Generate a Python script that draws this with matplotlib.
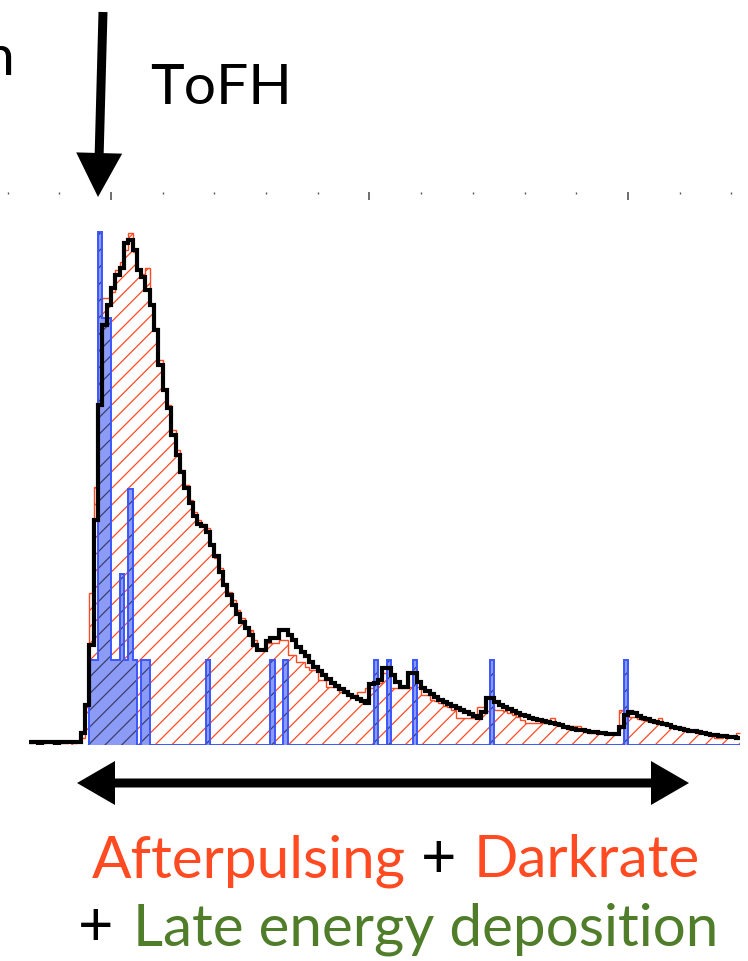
import numpy as np
import matplotlib
matplotlib.use("Agg")
import matplotlib.pyplot as plt
from matplotlib.patches import FancyArrow
from matplotlib.ticker import MultipleLocator

# histogram binning: one bin per unit, first bin starts at -19
FIRST_EDGE = -19

# summed expectation (black line), counts per bin
BLACK = [0.03, 0.03, 0.02, 0.03, 0.03, 0.03, 0.02, 0.03, 0.03, 0.03, 0.03, 0.03,
         0.14, 0.47, 1.17, 2.63, 3.98, 4.91, 5.15,
         5.35, 5.50, 5.58, 5.87, 5.91, 5.79, 5.56, 5.47, 5.32, 5.15,
         4.85, 4.44, 4.15, 3.94, 3.63, 3.39, 3.19, 3.01, 2.83, 2.68,
         2.58, 2.56, 2.49, 2.34, 2.21, 2.02, 1.87, 1.75, 1.64, 1.53,
         1.44, 1.37, 1.29, 1.17, 1.11, 1.11, 1.22, 1.25, 1.25, 1.35,
         1.35, 1.29, 1.23, 1.15, 1.09, 1.04, 0.97, 0.91, 0.87, 0.82,
         0.77, 0.73, 0.69, 0.65, 0.62, 0.58, 0.56, 0.54, 0.51, 0.49,
         0.71, 0.73, 0.76, 0.90, 0.90, 0.82, 0.74, 0.68, 0.68, 0.84,
         0.84, 0.74, 0.67, 0.63, 0.60, 0.56, 0.53, 0.50, 0.48, 0.46,
         0.43, 0.41, 0.39, 0.36, 0.34, 0.32, 0.39, 0.55, 0.55, 0.50,
         0.47, 0.44, 0.42, 0.40, 0.37, 0.35, 0.34, 0.32, 0.30, 0.29,
         0.28, 0.27, 0.26, 0.25, 0.23, 0.21, 0.20, 0.19, 0.18, 0.18,
         0.16, 0.15, 0.15, 0.14, 0.14, 0.13, 0.13, 0.13, 0.21, 0.35,
         0.39, 0.37, 0.34, 0.32, 0.30, 0.28, 0.27, 0.26, 0.25, 0.23,
         0.21, 0.20, 0.19, 0.18, 0.16, 0.16, 0.15, 0.14, 0.13, 0.12,
         0.12, 0.11, 0.11, 0.09, 0.09, 0.08]

# afterpulsing + darkrate (red hatched)
RED = [0.02, 0.05, 0.02, 0.02, 0.05, 0.02, 0.05, 0.02, 0.02, 0.05, 0.02, 0.03,
       0.08, 0.45, 1.78, 3.02, 4.30, 5.23, 5.23,
       5.30, 5.56, 5.65, 5.79, 5.99, 5.77, 5.56, 5.51, 5.58, 5.15,
       4.88, 4.50, 4.15, 3.98, 3.68, 3.45, 3.22, 3.04, 2.87, 2.73,
       2.63, 2.58, 2.54, 2.34, 2.19, 2.07, 1.89, 1.79, 1.70, 1.58,
       1.49, 1.37, 1.35, 1.23, 1.11, 1.11, 1.19, 1.19, 1.19, 1.23,
       1.23, 1.05, 1.05, 0.97, 0.97, 0.91, 0.88, 0.88, 0.76, 0.76,
       0.68, 0.68, 0.68, 0.62, 0.62, 0.58, 0.58, 0.62, 0.62, 0.67,
       0.67, 0.73, 0.73, 0.84, 0.67, 0.67, 0.67, 0.67, 0.67, 0.68,
       0.68, 0.68, 0.58, 0.58, 0.53, 0.51, 0.49, 0.46, 0.44, 0.41,
       0.32, 0.32, 0.32, 0.32, 0.32, 0.44, 0.44, 0.56, 0.47, 0.41,
       0.41, 0.40, 0.37, 0.35, 0.33, 0.29, 0.26, 0.26, 0.26, 0.26,
       0.26, 0.26, 0.32, 0.23, 0.23, 0.22, 0.22, 0.22, 0.22, 0.18,
       0.15, 0.14, 0.14, 0.14, 0.13, 0.14, 0.13, 0.13, 0.41, 0.35,
       0.33, 0.33, 0.30, 0.29, 0.28, 0.27, 0.26, 0.32, 0.24, 0.23,
       0.21, 0.20, 0.21, 0.17, 0.16, 0.15, 0.15, 0.14, 0.13, 0.12,
       0.08, 0.08, 0.11, 0.10, 0.10, 0.14]

# late energy deposition (blue), integer counts in a few bins
BLUE_BINS = [-5, -4, -3, -2, -1, 0, 1, 2, 3, 4, 5, 7, 8, 22, 37, 40, 61, 64, 70, 88, 119]
BLUE_COUNTS = [1, 1, 6, 5, 5, 1, 1, 2, 1, 3, 1, 1, 1, 1, 1, 1, 1, 1, 1, 1, 1]

ORANGE = '#ff4a22'
GREEN = '#4f7d2a'
BLUE_EDGE = '#3a56ff'
BLUE_FILL = '#8c9cf6'

plt.rcParams['hatch.linewidth'] = 0.9
plt.rcParams['font.family'] = ['Lato', 'DejaVu Sans']

nb = len(BLACK)
edges = np.arange(FIRST_EDGE, FIRST_EDGE + nb + 1)
blue = np.zeros(nb)
for b, c in zip(BLUE_BINS, BLUE_COUNTS):
    blue[b - FIRST_EDGE] = c
i0 = BLUE_BINS[0] - FIRST_EDGE

fig = plt.figure(figsize=(7.48, 9.61), dpi=100)
ax = fig.add_axes([0, 216 / 961, 1, 553 / 961])

# red: hatch fill then outline
ax.stairs(RED, edges, fill=True, facecolor='none', edgecolor=ORANGE,
          hatch='//', linewidth=0, baseline=0)
ax.stairs(RED, edges, color=ORANGE, linewidth=1.0, baseline=None)

# blue: fill, dark hatch, outline
ax.stairs(blue[i0:], edges[i0:], fill=True, facecolor=BLUE_FILL, edgecolor='none')
ax.stairs(blue[i0:], edges[i0:], fill=True, facecolor='none', edgecolor='#3c3c70',
          hatch='//', linewidth=0)
ax.stairs(blue[i0:], edges[i0:], color=BLUE_EDGE, linewidth=1.4)

# black total
ax.stairs(BLACK, edges, color='black', linewidth=3.0, baseline=None)

ax.set_xlim(-111 / 4.308, 637 / 4.308)
ax.set_ylim(0, 553 / 85.5)
ax.xaxis.set_major_locator(MultipleLocator(60))
ax.xaxis.set_minor_locator(MultipleLocator(12))
ax.tick_params(axis='x', which='both', top=True, bottom=False, direction='in',
               labeltop=False, labelbottom=False, color='#555555')
ax.tick_params(axis='x', which='major', length=6, width=1.2)
ax.tick_params(axis='x', which='minor', length=1.2, width=1)
ax.set_yticks([])
for s in ax.spines.values():
    s.set_visible(False)
ax.patch.set_alpha(0)

# overlay in pixel coordinates for the annotations
ov = fig.add_axes([0, 0, 1, 1])
ov.set_xlim(0, 748)
ov.set_ylim(961, 0)
ov.axis('off')
ov.patch.set_alpha(0)

ov.add_patch(FancyArrow(103, 12, -5, 185, width=9, head_width=46, head_length=44,
                        length_includes_head=True, color='black', lw=0))
ov.add_patch(FancyArrow(383, 783, -306, 0, width=9, head_width=44, head_length=38,
                        length_includes_head=True, color='black', lw=0))
ov.add_patch(FancyArrow(383, 783, 306, 0, width=9, head_width=44, head_length=38,
                        length_includes_head=True, color='black', lw=0))

ov.text(150, 104, 'ToFH', fontsize=41, color='black', ha='left', va='baseline')
ov.text(15, 75, 'n', fontsize=41, color='black', ha='right', va='baseline')

ov.text(92, 877, 'Afterpulsing', fontsize=42, color=ORANGE, ha='left', va='baseline')
ov.text(421, 877, '+', fontsize=44, color='black', ha='left', va='baseline')
ov.text(474, 877, 'Darkrate', fontsize=42, color=ORANGE, ha='left', va='baseline')
ov.text(78, 945, '+', fontsize=44, color='black', ha='left', va='baseline')
ov.text(133, 945, 'Late energy deposition', fontsize=42, color=GREEN, ha='left', va='baseline')

fig.savefig('out.png', dpi=100)
